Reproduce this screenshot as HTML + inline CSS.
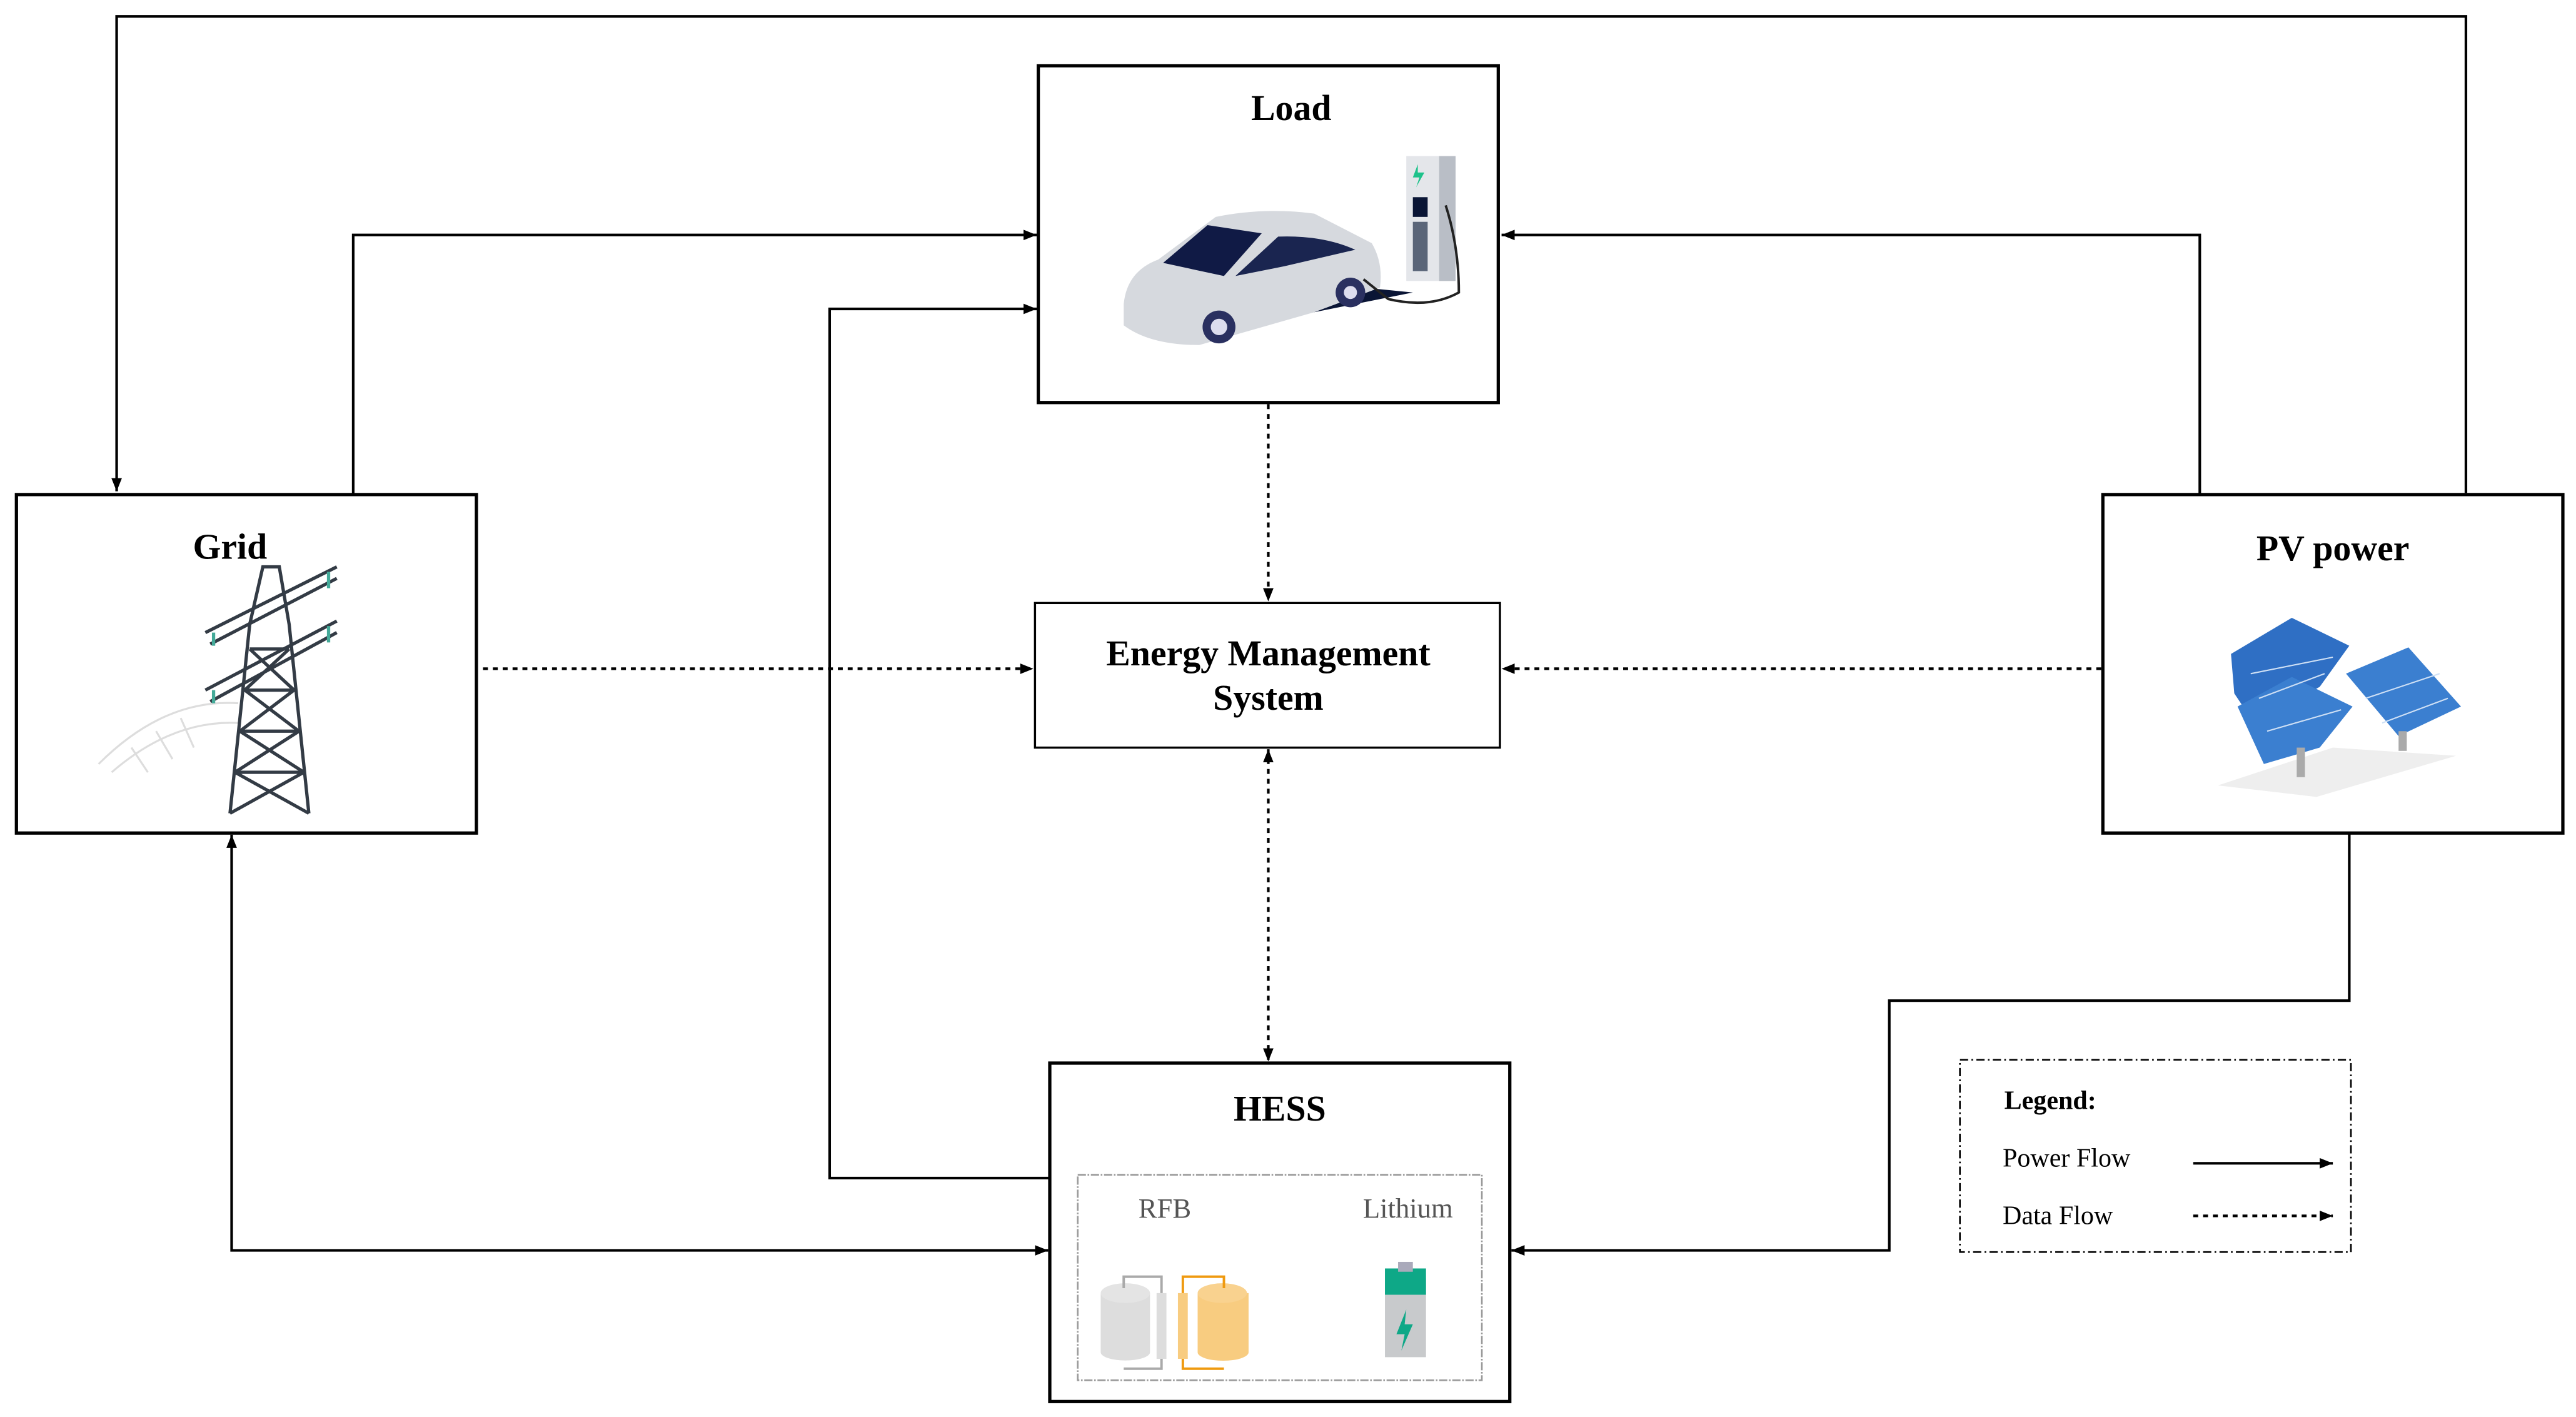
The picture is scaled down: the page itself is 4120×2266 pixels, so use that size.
<!DOCTYPE html>
<html><head><meta charset="utf-8"><style>html,body{margin:0;padding:0;background:#fff}svg{display:block}</style></head><body>
<svg width="4120" height="2266" viewBox="0 0 1568 862.4" xmlns="http://www.w3.org/2000/svg" font-family="Liberation Serif, serif">
<defs>
<marker id="a" viewBox="0 0 10 10" refX="10" refY="5" markerWidth="8" markerHeight="8" orient="auto-start-reverse" markerUnits="userSpaceOnUse"><path d="M0,1 L10,5 L0,9 z" fill="#000"/></marker>
</defs>
<rect width="1568" height="862.4" fill="#fff"/>
<g fill="none" stroke="#000" stroke-width="2">
<rect x="632" y="40" width="280" height="205"/>
<rect x="10" y="301" width="280" height="206"/>
<rect x="1280" y="301" width="280" height="206"/>
<rect x="639" y="647" width="280" height="206"/>
<rect x="630" y="367" width="283" height="88" stroke-width="1.3"/>
</g>
<g fill="none" stroke="#000" stroke-width="1.6">
<path d="M1501,300 V10 H71 V299" marker-end="url(#a)"/>
<path d="M215,301 V143 H631" marker-end="url(#a)"/>
<path d="M639,717 H505 V188 H631" marker-end="url(#a)"/>
<path d="M1339,301 V143 H914" marker-end="url(#a)"/>
<path d="M1430,507 V609 H1150 V761 H920" marker-end="url(#a)"/>
<path d="M141,508 V761 H638" marker-start="url(#a)" marker-end="url(#a)"/>
<path d="M1335,708 H1420" marker-end="url(#a)"/>
</g>
<g fill="none" stroke="#000" stroke-width="1.6" stroke-dasharray="3,3">
<path d="M772,246 V366" marker-end="url(#a)"/>
<path d="M294,407 H629" marker-end="url(#a)"/>
<path d="M1279,407 H914" marker-end="url(#a)"/>
<path d="M772,456 V646" marker-start="url(#a)" marker-end="url(#a)"/>
<path d="M1335,740 H1420" marker-end="url(#a)"/>
</g>
<rect x="1193" y="645" width="238" height="117" fill="none" stroke="#000" stroke-width="1" stroke-dasharray="5,2,1,2"/>
<rect x="656" y="715" width="246" height="125" fill="none" stroke="#999" stroke-width="1" stroke-dasharray="5,1,1,1"/>
<g font-weight="bold" font-size="22" text-anchor="middle" fill="#000">
<text x="786" y="73">Load</text>
<text x="140" y="340">Grid</text>
<text x="1420" y="341">PV power</text>
<text x="779" y="682">HESS</text>
<text x="772" y="405">Energy Management</text>
<text x="772" y="432">System</text>
</g>
<text x="1220" y="675" font-weight="bold" font-size="16">Legend:</text>
<text x="1219" y="710" font-size="16">Power Flow</text>
<text x="1219" y="745" font-size="16">Data Flow</text>
<text x="709" y="741" font-size="17" fill="#555" text-anchor="middle">RFB</text>
<text x="857" y="741" font-size="17" fill="#555" text-anchor="middle">Lithium</text>
<!-- car -->
<g>
<path d="M700,205 L800,190 L860,178 L830,175 L760,200 z" fill="#0a1535"/>
<path d="M684,185 Q686,165 705,158 L740,132 Q770,126 800,130 L835,148 Q842,160 840,175 L800,190 L730,210 Q700,210 684,198 z" fill="#d6d9de"/>
<path d="M708,160 L735,137 L768,142 L745,168 z" fill="#101a45"/>
<path d="M752,168 L778,144 Q805,143 825,152 L782,162 z" fill="#1a2550"/>
<circle cx="742" cy="199" r="10" fill="#2a3060"/><circle cx="742" cy="199" r="5" fill="#dde"/>
<circle cx="822" cy="178" r="9" fill="#2a3060"/><circle cx="822" cy="178" r="4" fill="#dde"/>
<rect x="856" y="95" width="30" height="76" fill="#e4e6ea"/>
<rect x="876" y="95" width="10" height="76" fill="#b9bec6"/>
<path d="M863,100 L860,108 L864,108 L862,114 L867,105 L863,105z" fill="#1ec28b"/>
<rect x="860" y="135" width="9" height="30" fill="#5a6578"/>
<rect x="860" y="120" width="9" height="12" fill="#0a1535"/>
<path d="M880,125 Q888,150 888,178 Q870,188 845,182 L830,170" fill="none" stroke="#222" stroke-width="1.5"/>
</g>
<!-- tower -->
<g stroke="#ddd" stroke-width="1.2" fill="none">
<path d="M60,465 Q100,425 145,428 M68,470 Q105,438 145,440 M80,455 L90,470 M95,445 L105,462 M110,437 L118,455"/>
</g>
<g stroke="#333b45" stroke-width="2" fill="none">
<path d="M140,495 L152,380 L160,345 L170,345 L176,380 L188,495"/>
<path d="M143,470 L185,470 M146,445 L182,445 M149,420 L179,420 M152,395 L176,395"/>
<path d="M143,470 L182,445 L149,420 L176,395 M185,470 L146,445 L179,420 L152,395"/>
<path d="M140,495 L185,470 M188,495 L143,470"/>
<path d="M125,385 L205,345 M125,420 L205,378 M128,392 L205,352 M128,427 L205,385"/>
<path d="M130,385 v8 M200,348 v10 M130,420 v8 M200,381 v10" stroke="#4a9" />
</g>
<!-- PV panels -->
<g>
<path d="M1358,398 L1395,376 L1430,393 L1412,418 L1372,440 L1360,422 z" fill="#2f6fc4"/>
<path d="M1362,430 L1395,412 L1432,430 L1412,455 L1378,465 z" fill="#3b7fd0"/>
<path d="M1428,410 L1466,394 L1498,430 L1460,448 z" fill="#3b7fd0"/>
<g stroke="#cfe0f5" stroke-width="0.8"><path d="M1370,410 L1420,400 M1375,425 L1415,410 M1380,445 L1425,432 M1440,425 L1485,410 M1450,440 L1490,425"/></g>
<path d="M1350,478 L1420,455 L1495,460 L1410,485 z" fill="#eee"/>
<rect x="1398" y="455" width="5" height="18" fill="#aaa"/><rect x="1460" y="445" width="5" height="12" fill="#aaa"/>
</g>
<!-- RFB -->
<g>
<path d="M670,787 v36 a15,5 0 0 0 30,0 v-36z" fill="#ddd"/><ellipse cx="685" cy="787" rx="15" ry="6" fill="#e4e4e4"/>
<path d="M729,787 v36 a15,5 0 0 0 31,0 v-36z" fill="#f8cc80"/><ellipse cx="744" cy="787" rx="15" ry="6" fill="#f9d28f"/>
<rect x="704" y="787" width="6" height="40" fill="#ddd"/><rect x="717" y="787" width="6" height="40" fill="#f8cc80"/>
<path d="M707,787 V777 H684 V784 M707,827 V833 H684" fill="none" stroke="#aaa" stroke-width="1.5"/>
<path d="M720,787 V777 H745 V784 M720,827 V833 H745" fill="none" stroke="#ef9a10" stroke-width="1.5"/>
<rect x="843" y="778" width="25" height="48" fill="#c8cacc"/>
<rect x="843" y="772" width="25" height="16" fill="#0ea887"/>
<rect x="851" y="768" width="9" height="6" fill="#aab"/>
<path d="M856,797 L850,812 L855,812 L853,822 L860,806 L855,806z" fill="#0ea887"/>
</g>
</svg>
</body></html>
